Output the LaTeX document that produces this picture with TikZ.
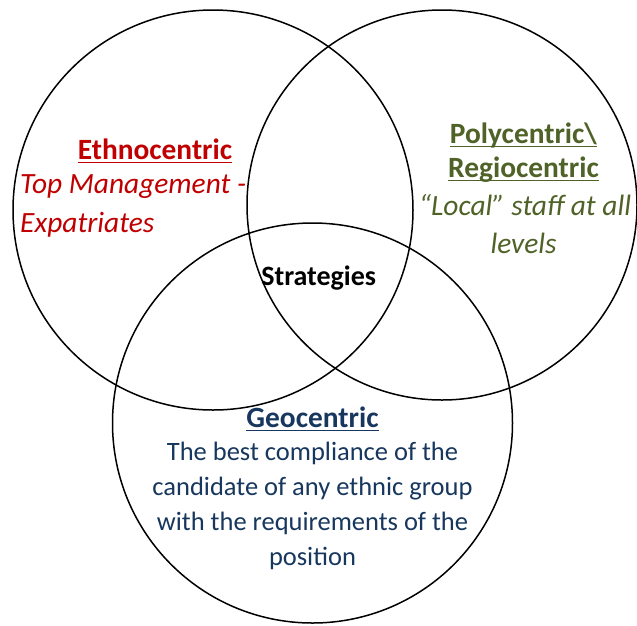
\documentclass[tikz,border=0pt]{standalone}
\usepackage{fontspec}
\setmainfont{Carlito}
\definecolor{ethred}{HTML}{C00000}
\definecolor{polygreen}{HTML}{4F6228}
\definecolor{geoblue}{HTML}{17375E}
\newcommand{\myul}[1]{\setbox0\hbox{#1}\rlap{\rule[-4.3pt]{\wd0}{1.7pt}}\box0}
\begin{document}
\begin{tikzpicture}[x=1pt,y=-1pt,
  venn/.style={circle,draw=black,line width=1.5pt,inner sep=0pt,outer sep=0pt},
  head/.style={anchor=base,inner sep=0pt,font=\fontsize{29.4}{35}\selectfont\bfseries},
  ital/.style={anchor=base,inner sep=0pt,font=\fontsize{29.4}{35}\selectfont\itshape},
  body/.style={anchor=base,inner sep=0pt,font=\fontsize{26.5}{35}\selectfont}]
\useasboundingbox (0,0) rectangle (637,625);
\fill[white] (0,0) rectangle (637,625);
\node[venn,minimum size=400pt] (L) at (213,210) {};
\node[venn,minimum size=390pt] (R) at (442,205) {};
\node[venn,minimum size=400pt] (B) at (312.5,423) {};
% Ethnocentric
\node[head,text=ethred] (e1) at (155,159) {\myul{Ethnocentric}};
\node[ital,text=ethred,anchor=base west] (e2) at (20,193) {Top Management -};
\node[ital,text=ethred,anchor=base west] (e3) at (20,232) {Expatriates};
% Polycentric
\node[head,text=polygreen] (p1) at (523.5,143) {\myul{Polycentric\textbackslash}};
\node[head,text=polygreen] (p2) at (523.5,177) {\myul{Regiocentric}};
\node[ital,text=polygreen] (p3) at (525,215) {“Local” staff at all};
\node[ital,text=polygreen] (p4) at (523.5,253) {levels};
% Geocentric
\node[head,text=geoblue] (g1) at (312.5,427) {\myul{Geocentric}};
\node[body,text=geoblue] (g2) at (312.5,460) {The best compliance of the};
\node[body,text=geoblue] (g3) at (312.5,495) {candidate of any ethnic group};
\node[body,text=geoblue] (g4) at (312.5,530) {with the requirements of the};
\node[body,text=geoblue] (g5) at (312.5,565) {position};
% Center
\node[anchor=base,inner sep=0pt,font=\fontsize{28}{34}\selectfont\bfseries] (s) at (318.7,285) {Strategies};
\end{tikzpicture}
\end{document}
